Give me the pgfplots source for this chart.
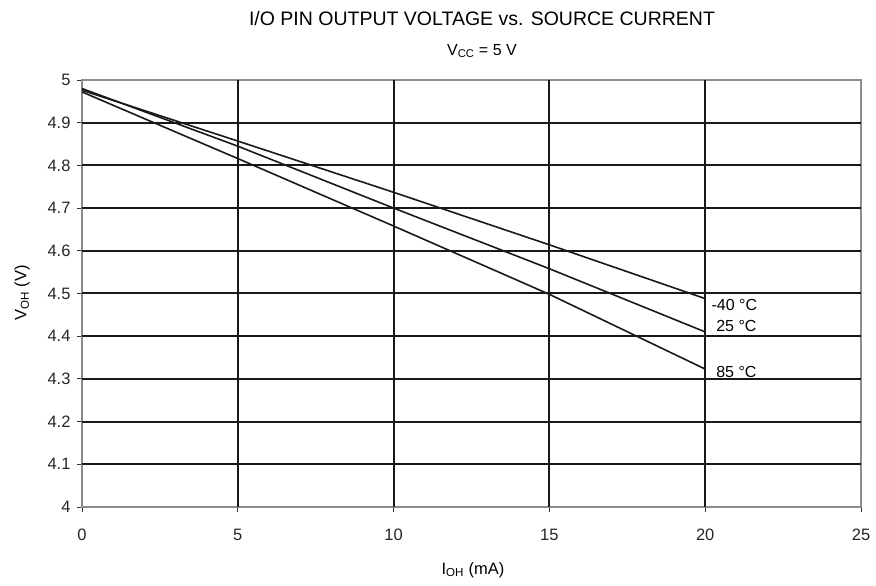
\documentclass[border=0pt]{standalone}
\usepackage{fontspec}
\setmainfont{Liberation Sans}
\usepackage{pgfplots}
\pgfplotsset{compat=1.18}
\begin{document}
\begin{tikzpicture}[x=1pt,y=1pt]
\path[use as bounding box] (0,0) rectangle (876,586);
\begin{axis}[
  at={(82pt,79pt)}, anchor=south west,
  scale only axis, width=779pt, height=427pt,
  xmin=0, xmax=25, ymin=4, ymax=5,
  xtick={0,5,10,15,20,25},
  xticklabels={0,5,10,15,20,25},
  ytick={4,4.1,4.2,4.3,4.4,4.5,4.6,4.7,4.8,4.9,5},
  yticklabels={4,4.1,4.2,4.3,4.4,4.5,4.6,4.7,4.8,4.9,5},
  tick pos=left, tick align=outside, major tick length=5pt,
  tick style={black!80, line width=0.8pt},
  ticklabel style={font=\fontsize{16.5}{18}\selectfont, text=black!85},
  xticklabel style={yshift=-13pt, text height=12pt, text depth=0pt},
  yticklabel style={xshift=-3pt},
  axis line style={draw=black!45, line width=1.3pt},
  clip=false,
]
\pgfplotsinvokeforeach{5,10,15,20}{
  \draw[black!90, line width=2pt] (axis cs:#1,4) -- (axis cs:#1,5);
}
\pgfplotsinvokeforeach{4.1,4.2,4.3,4.4,4.5,4.6,4.7,4.8,4.9}{
  \draw[black!90, line width=2pt] (axis cs:0,#1) -- (axis cs:25,#1);
}
\addplot[black!90, line width=1.6pt] coordinates {(0,4.976) (5,4.857) (10,4.737) (15,4.614) (20,4.488)};
\addplot[black!90, line width=1.6pt] coordinates {(0,4.980) (5,4.845) (10,4.700) (15,4.558) (20,4.410)};
\addplot[black!90, line width=1.6pt] coordinates {(0,4.972) (5,4.816) (10,4.658) (15,4.498) (20,4.323)};
\node[anchor=west, inner sep=0pt, font=\fontsize{16}{18}\selectfont] at (axis cs:20.2,4.474) {-40 °C};
\node[anchor=west, inner sep=0pt, font=\fontsize{16}{18}\selectfont] at (axis cs:20.35,4.425) {25 °C};
\node[anchor=west, inner sep=0pt, font=\fontsize{16}{18}\selectfont] at (axis cs:20.35,4.315) {85 °C};
\end{axis}
\node[font=\fontsize{19.5}{22}\selectfont] at (482,567) {I/O PIN OUTPUT VOLTAGE vs. SOURCE CURRENT};
\node[font=\fontsize{16}{18}\selectfont] at (482,535) {V\textsubscript{CC} = 5 V};
\node[font=\fontsize{16.5}{18}\selectfont] at (473,16) {I\textsubscript{OH} (mA)};
\node[font=\fontsize{16.5}{18}\selectfont, rotate=90] at (22,293) {V\textsubscript{OH} (V)};
\end{tikzpicture}
\end{document}
